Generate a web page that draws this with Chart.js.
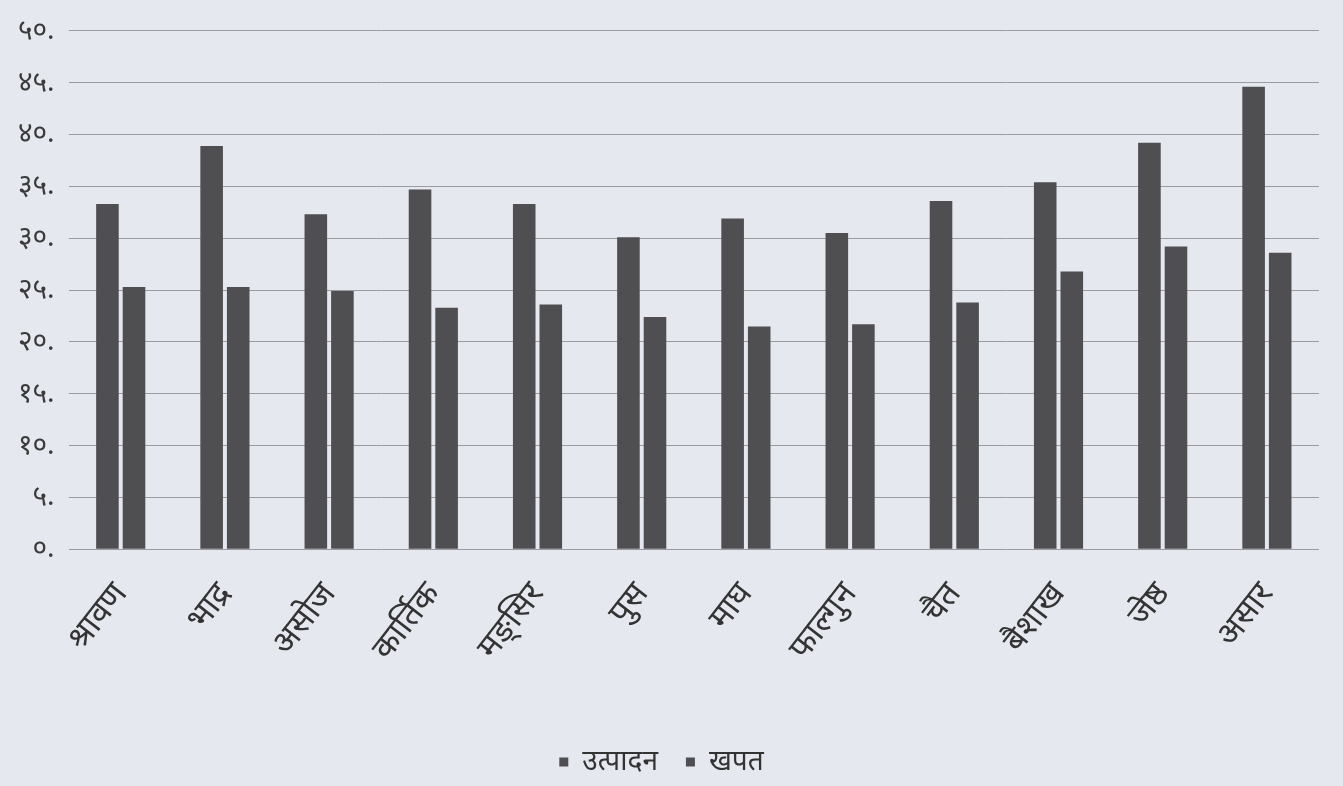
<!DOCTYPE html>
<html>
<head>
<meta charset="utf-8">
<script src="https://cdn.jsdelivr.net/npm/chart.js@4"></script>
<style>
    html, body { margin: 0; padding: 0; background: #e5e8ef; }
    #wrap { width: 1343px; height: 786px; }
</style>
</head>
<body>
<div id="wrap"><canvas id="monthChart"></canvas></div>
<script>
// months (Nepali calendar)
const months = ['श्रावण', 'भाद्र', 'असोज', 'कार्तिक', 'मङ्सिर', 'पुस', 'माघ', 'फाल्गुन', 'चैत', 'बैशाख', 'जेष्ठ', 'असार'];

const productionValues = [33.3, 38.9, 32.3, 34.7, 33.3, 30.1, 31.9, 30.5, 33.6, 35.4, 39.2, 44.6];
const consumptionValues = [25.3, 25.3, 24.9, 23.3, 23.6, 22.4, 21.5, 21.7, 23.8, 26.8, 29.2, 28.6];

const yTickLabels = ['०.', '५.', '१०.', '१५.', '२०.', '२५.', '३०.', '३५.', '४०.', '४५.', '५०.'];

const FONT = "'Noto Sans', 'DejaVu Sans', sans-serif";
const BAR = '#4f4f52';

const ctx = document.getElementById('monthChart');

new Chart(ctx, {
    type: 'bar',
    data: {
        labels: months,
        datasets: [{
            label: 'उत्पादन',
            data: productionValues,
            backgroundColor: BAR,
            categoryPercentage: 0.51,
            barPercentage: 0.85
        }, {
            label: 'खपत',
            data: consumptionValues,
            backgroundColor: BAR,
            categoryPercentage: 0.51,
            barPercentage: 0.85
        }]
    },
    options: {
        responsive: true,
        maintainAspectRatio: false,
        animation: false,
        layout: {
            padding: { top: 22, right: 24, bottom: 0, left: 4 }
        },
        plugins: {
            legend: {
                position: 'bottom',
                labels: {
                    boxWidth: 9,
                    boxHeight: 9,
                    padding: 28,
                    color: '#333',
                    font: { family: FONT, size: 28 }
                }
            },
            tooltip: { enabled: false }
        },
        scales: {
            y: {
                min: 0,
                max: 50,
                ticks: {
                    stepSize: 5,
                    padding: 14,
                    color: '#3a3a3a',
                    font: { family: FONT, size: 28 },
                    callback: function(value) {
                        return yTickLabels[Math.round(value / 5)];
                    }
                },
                grid: {
                    color: '#9a9ca2',
                    lineWidth: 1,
                    drawTicks: false
                },
                border: { display: false }
            },
            x: {
                // extra room under the month names before the legend
                afterFit: function(scale) {
                    scale.height += 34;
                },
                ticks: {
                    minRotation: 52,
                    maxRotation: 52,
                    padding: 18,
                    color: '#333',
                    font: { family: FONT, size: 33 }
                },
                grid: {
                    display: false
                },
                border: { display: false }
            }
        }
    }
});
</script>
</body>
</html>
